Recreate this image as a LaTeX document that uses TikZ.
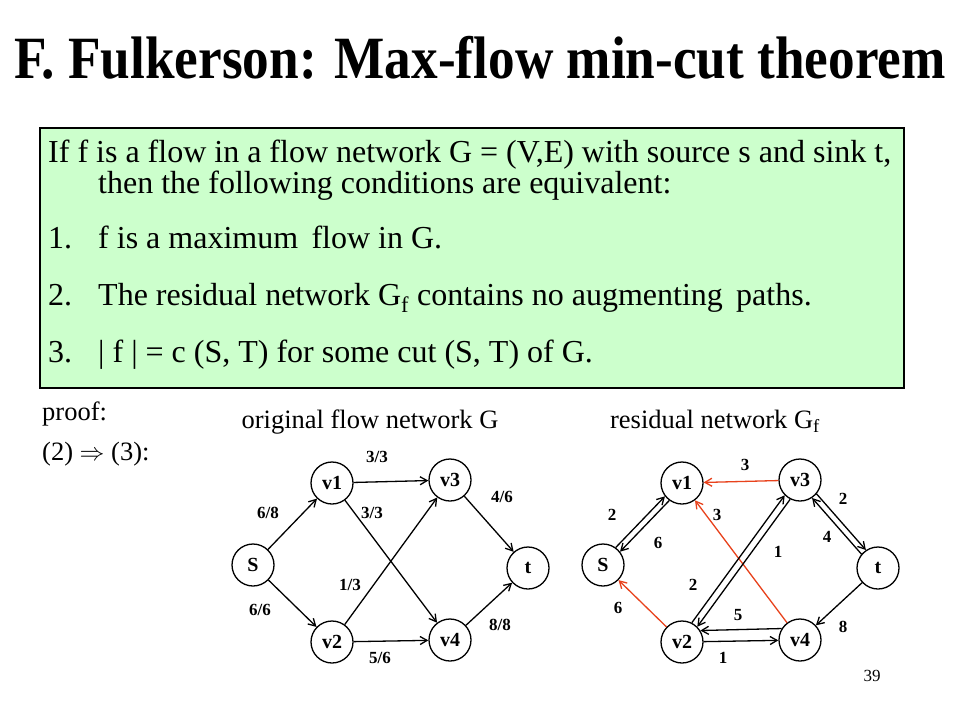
\documentclass[tikz,border=0pt]{standalone}
\usepackage{fontspec}
\setmainfont{Liberation Serif}
\usepackage{tikz}
\usetikzlibrary{arrows.meta, positioning}
\definecolor{boxGreen}{RGB}{204,255,204}
\definecolor{resRed}{RGB}{232,66,28}

\begin{document}
\begin{tikzpicture}[x=1pt, y=-1pt, >={Straight Barb[length=7pt, width=8pt]},
    vtx/.style={circle, draw, line width=1.3pt, minimum size=42pt, inner sep=0pt,
        font=\fontsize{20}{20}\selectfont\bfseries},
    edge/.style={->, line width=1.3pt},
    flowlbl/.style={font=\fontsize{17}{17}\selectfont\bfseries},
    body/.style={anchor=base west, inner sep=0pt, font=\fontsize{32}{32}\selectfont},
    small/.style={anchor=base west, inner sep=0pt, font=\fontsize{26.5}{26.5}\selectfont}]
    \useasboundingbox[fill=white] (0,0) rectangle (960,720);

    % title and theorem box
    \node[anchor=base, inner sep=0pt, font=\fontsize{50}{50}\selectfont\bfseries] (title) at (480,78)
        {\scalebox{1.065}[1.2]{F. Fulkerson: Max-flow min-cut theorem}};
    \draw[fill=boxGreen, line width=2pt] (40,128) rectangle (904,388);
    \node[body] (hyp1) at (48,162) {If f is a flow in a flow network G = (V,E) with source s and sink t,};
    \node[body] (hyp2) at (98,193) {then the following conditions are equivalent:};
    \node[body] (n1) at (48,248) {1.};
    \node[body] (c1) at (98,248) {f is a maximum\, flow in G.};
    \node[body] (n2) at (48,305) {2.};
    \node[body] (c2) at (98,305) {The residual network G\textsubscript{f} contains no augmenting\, paths.};
    \node[body] (n3) at (48,362) {3.};
    \node[body] (c3) at (98,362) {| f | = c (S, T) for some cut (S, T) of G.};

    \node[small] (proof) at (42,420) {proof:};
    \node[small] (step) at (42,460) {(2) $\Rightarrow$ (3):};
    \node[small, anchor=base] (orig) at (370,428) {original flow network G};
    \node[small, anchor=base] (resid) at (715,428) {residual network G\textsubscript{f}};

    % Step 1: original flow network
    \begin{scope}[shift={(0,0)}]
        \node[vtx] (S) at (253,565) {S};
        \node[vtx] (v1) at (332,483) {v1};
        \node[vtx] (v3) at (450,480) {v3};
        \node[vtx] (t) at (528,568) {t};
        \node[vtx] (v2) at (332,642) {v2};
        \node[vtx] (v4) at (450,640) {v4};

        \draw[edge] (S) -- (v1);
        \draw[edge] (S) -- (v2);
        \draw[edge] (v1) -- (v3);
        \draw[edge] (v1) -- (v4);
        \draw[edge] (v2) -- (v3);
        \draw[edge] (v2) -- (v4);
        \draw[edge] (v3) -- (t);
        \draw[edge] (v4) -- (t);

        \node[flowlbl] (f13) at (377,457) {3/3};
        \node[flowlbl] (fs1) at (268,513) {6/8};
        \node[flowlbl] (f14) at (372,513) {3/3};
        \node[flowlbl] (f3t) at (502,497) {4/6};
        \node[flowlbl] (f23) at (350,585) {1/3};
        \node[flowlbl] (fs2) at (260,610) {6/6};
        \node[flowlbl] (f4t) at (500,625) {8/8};
        \node[flowlbl] (f24) at (380,658) {5/6};
    \end{scope}

    % Step 2: residual network
    \begin{scope}[shift={(350,0)}]
        \node[vtx] (rS) at (253,565) {S};
        \node[vtx] (rv1) at (332,483) {v1};
        \node[vtx] (rv3) at (450,480) {v3};
        \node[vtx] (rt) at (528,568) {t};
        \node[vtx] (rv2) at (332,642) {v2};
        \node[vtx] (rv4) at (450,640) {v4};

        \draw[edge, resRed] (rv3) -- (rv1);
        \draw[edge, resRed] (rv4) -- (rv1);
        \draw[edge, resRed] (rv2) -- (rS);
        \draw[edge] (rS.54) -- (rv1.218);
        \draw[edge] (rv1.234) -- (rS.38);
        \draw[edge] (rv3.-40) -- (rt.124);
        \draw[edge] (rt.140) -- (rv3.-56);
        \draw[edge] (rv2.63) -- (rv3.225);
        \draw[edge] (rv3.243) -- (rv2.45);
        \draw[edge] (rv4.148) -- (rv2.32);
        \draw[edge] (rv2) -- (rv4);
        \draw[edge] (rt) -- (rv4);

        \node[flowlbl] (r31) at (395,465) {3};
        \node[flowlbl] (rs1) at (262,515) {2};
        \node[flowlbl] (r1s) at (308,543) {6};
        \node[flowlbl] (r41) at (367,515) {3};
        \node[flowlbl] (r3t) at (493,499) {2};
        \node[flowlbl] (rt3) at (477,537) {4};
        \node[flowlbl] (r23) at (343,585) {2};
        \node[flowlbl] (r32) at (428,552) {1};
        \node[flowlbl] (r2s) at (268,608) {6};
        \node[flowlbl] (rt4) at (493,627) {8};
        \node[flowlbl] (r42) at (388,615) {5};
        \node[flowlbl] (r24) at (373,658) {1};
    \end{scope}

    \node[anchor=base, font=\fontsize{17}{17}\selectfont] (page) at (872,681) {39};
\end{tikzpicture}
\end{document}
